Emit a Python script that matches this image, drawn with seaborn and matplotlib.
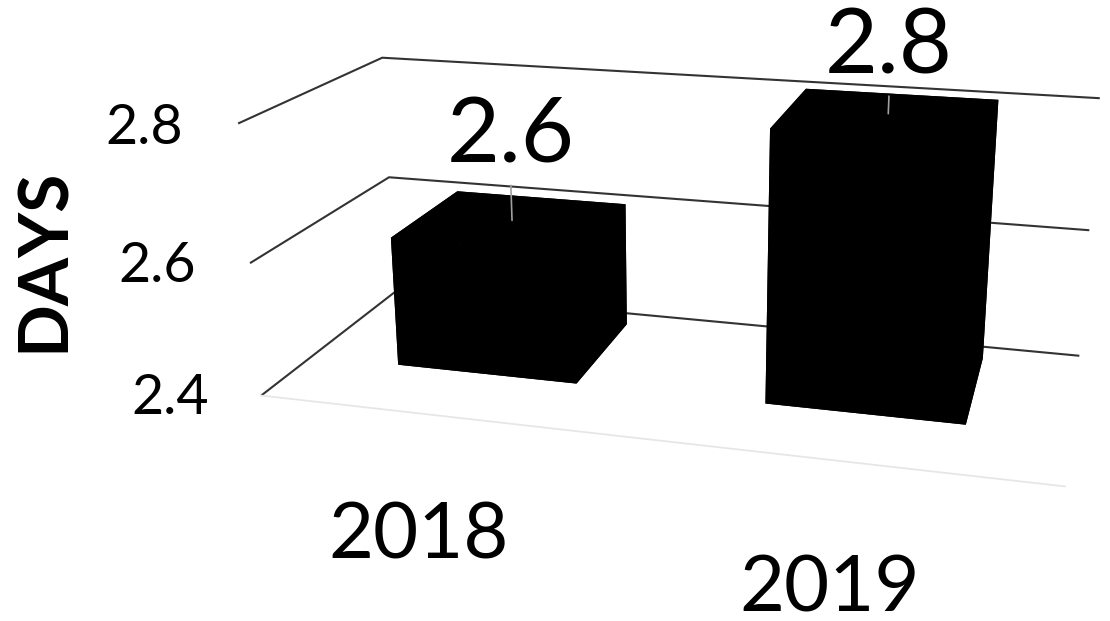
import numpy as np
import pandas as pd
import matplotlib
matplotlib.use("Agg")
import matplotlib.pyplot as plt
import matplotlib.transforms as mtransforms
from matplotlib.ticker import NullFormatter
import seaborn as sns

# ---- data ----
years = ["2018", "2019"]
days = [2.6, 2.8]
y_ticks = [2.4, 2.6, 2.8]
y_tick_labels = ["2.4", "2.6", "2.8"]
y_label = "DAYS"

df = pd.DataFrame({"year": years, "days": days})

sns.set_theme(style="white")
plt.rcParams["font.family"] = ["Lato", "DejaVu Sans"]
plt.rcParams["text.color"] = "black"
plt.rcParams["xtick.color"] = "black"
plt.rcParams["ytick.color"] = "black"
plt.rcParams["axes.labelcolor"] = "black"
bar_color = sns.color_palette(["#000000"])[0]
grid_color = "#333333"

fig = plt.figure(figsize=(11.1, 6.21), dpi=100)
ax = fig.add_axes([0.005, -0.064, 1.2, 1.3], projection="3d")
ax.set_proj_type("persp", focal_length=0.38)
ax.view_init(elev=18, azim=-75)
ax.set_box_aspect((3.18, 1.3, 1.13), zoom=1.07)

zmin, zmax = y_ticks[0], y_ticks[-1]
n = len(df)
xpos = np.arange(n) + 0.5
bw, bd = 0.5, 0.55
ycen = 0.62
ax.bar3d(xpos - bw / 2, np.full(n, ycen - bd / 2), np.full(n, zmin),
         bw, bd, df["days"].to_numpy() - zmin, color=bar_color, shade=False,
         edgecolor=bar_color, linewidth=0)

# data labels with leader lines (kept inside the top of the plot area)
for xc, v in zip(xpos, df["days"]):
    lz = min(v + 0.065, zmax + 0.035)
    ax.plot([xc, xc], [ycen, ycen], [v, lz - 0.01], color="#a0a0a0", lw=1.2, zorder=10)
    ax.text(xc, ycen, lz, f"{v:.1f}", ha="center", va="bottom", fontsize=66, zorder=11)

ax.set_xlim(0, n)
ax.set_ylim(0, 1)
ax.set_zlim(zmin, zmax)
ax.set_xticks(xpos, labels=df["year"].tolist())
ax.set_yticks([])
ax.set_zticks(y_ticks)
ax.zaxis.set_major_formatter(NullFormatter())
ax.zaxis.set_tick_params(labelleft=False)
ax.tick_params(axis="x", labelsize=56, pad=56)

# value-axis labels beside the front edge of the side wall
lab_tr = mtransforms.offset_copy(ax.transData, fig=fig, x=4, y=-9, units="dots")
for t, lab in zip(y_ticks, y_tick_labels):
    ax.text(-0.16, 0, t, lab, ha="right", va="center", fontsize=40, transform=lab_tr)

for axis in (ax.xaxis, ax.yaxis, ax.zaxis):
    axis.set_pane_color((1, 1, 1, 0))
    axis.pane.set_edgecolor((1, 1, 1, 0))
    axis._axinfo["tick"]["inward_factor"] = 0
    axis._axinfo["tick"]["outward_factor"] = 0
    axis.offsetText.set_visible(False)
    axis.label.set_visible(False)
for t in (ax.title, ax._left_title, ax._right_title):
    t.set_visible(False)
ax.xaxis._axinfo["grid"]["color"] = (1, 1, 1, 0)
ax.yaxis._axinfo["grid"]["color"] = (1, 1, 1, 0)
ax.zaxis._axinfo["grid"]["color"] = grid_color
ax.zaxis._axinfo["grid"]["linewidth"] = 1.5
ax.xaxis.line.set_color("#e6e6e6")
ax.yaxis.line.set_color((1, 1, 1, 0))
ax.zaxis.line.set_color((1, 1, 1, 0))

fig.text(0.04, 0.582, y_label, rotation=90, ha="center", va="center",
         fontsize=50, fontweight="bold")

fig.savefig("out.png", dpi=100)
